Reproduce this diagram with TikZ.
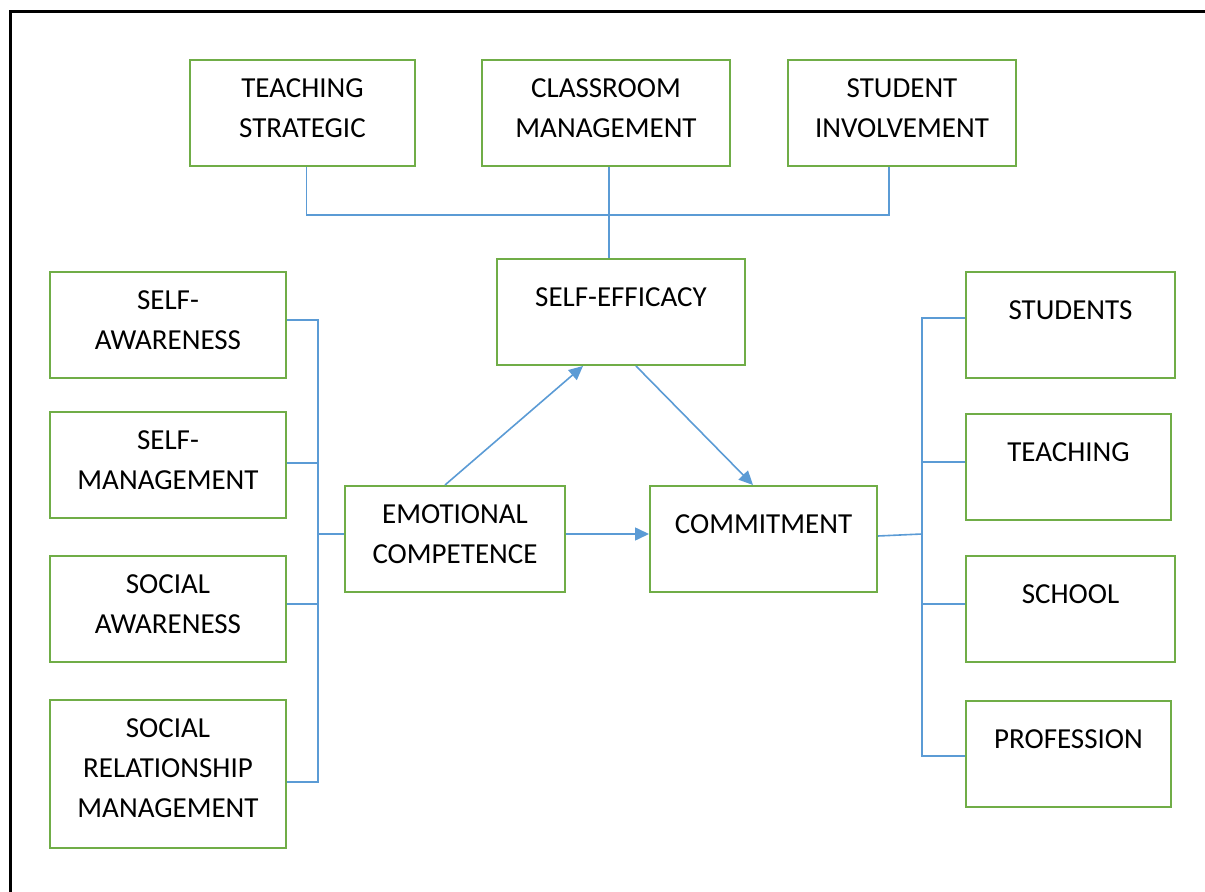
\documentclass[tikz,border=0pt]{standalone}
\usepackage{fontspec}
\setmainfont{Carlito}
\usetikzlibrary{arrows.meta}
\definecolor{boxgreen}{RGB}{112,173,71}
\definecolor{linkblue}{RGB}{91,155,213}
\tikzset{
  box/.style={draw=boxgreen,line width=1pt,align=center,inner sep=0pt,
    font=\fontsize{14.5pt}{20pt}\selectfont},
  oneline/.style={box,text height=9.4pt,text depth=14.9pt},
  twoline/.style={box,text height=29.4pt,text depth=4.5pt},
  threeline/.style={box,text height=49.4pt,text depth=5.55pt},
  link/.style={draw=linkblue,line width=0.8pt},
  flow/.style={link,-{Stealth[length=7pt,width=6.5pt,inset=0pt]}}
}

\begin{document}
\begin{tikzpicture}[x=0.5pt,y=-0.5pt]
  \useasboundingbox (0,0) rectangle (1205,892);
  \draw[line width=1.5pt] (10,892) -- (10,12) -- (1205,12);

  % top row
  \node[twoline,minimum width=112.5pt,minimum height=53pt] (ts) at (302.5,113) {TEACHING\\STRATEGIC};
  \node[twoline,minimum width=124pt,minimum height=53pt] (cm) at (606,113) {CLASSROOM\\MANAGEMENT};
  \node[twoline,minimum width=114pt,minimum height=53pt] (si) at (902,113) {STUDENT\\INVOLVEMENT};
  \node[oneline,minimum width=124pt,minimum height=53pt] (se) at (621,312) {SELF-EFFICACY};

  % left column
  \node[twoline,minimum width=118pt,minimum height=53pt] (sa) at (168,325) {SELF-\\AWARENESS};
  \node[twoline,minimum width=118pt,minimum height=53pt] (sm) at (168,465) {SELF-\\MANAGEMENT};
  \node[twoline,minimum width=118pt,minimum height=53pt] (soa) at (168,609) {SOCIAL\\AWARENESS};
  \node[threeline,minimum width=118pt,minimum height=74pt] (srm) at (168,774) {SOCIAL\\RELATIONSHIP\\MANAGEMENT};

  % middle
  \node[twoline,minimum width=110pt,minimum height=53pt] (ec) at (455,539) {EMOTIONAL\\COMPETENCE};
  \node[oneline,minimum width=113.5pt,minimum height=53pt] (co) at (763.5,539) {COMMITMENT};

  % right column
  \node[oneline,minimum width=104.5pt,minimum height=53pt] (st) at (1070.5,325) {STUDENTS};
  \node[oneline,minimum width=102.5pt,minimum height=53pt] (te) at (1068.5,467) {TEACHING};
  \node[oneline,minimum width=104.5pt,minimum height=53pt] (sc) at (1070.5,609) {SCHOOL};
  \node[oneline,minimum width=102.5pt,minimum height=53pt] (pr) at (1068.5,754) {PROFESSION};

  \coordinate (topbus) at (609,215);
  \coordinate (lbus) at (318,534);
  \coordinate (rbus) at (922,534);

  % brackets
  \draw[link] ([xshift=2pt]ts.south) |- (topbus) -| ([xshift=-6.5pt]si.south);
  \draw[link] (cm.south -| topbus) -- (topbus |- se.north);
  \draw[link] ([yshift=2.5pt]sa.east) -| (lbus) |- ([yshift=-4pt]srm.east);
  \draw[link] ([yshift=1pt]sm.east) -- ([yshift=1pt]sm.east -| lbus);
  \draw[link] ([yshift=2.5pt]soa.east) -- ([yshift=2.5pt]soa.east -| lbus);
  \draw[link] (lbus) -- (lbus -| ec.west);
  \draw[link] ([yshift=3.5pt]st.west) -| (rbus) |- ([yshift=-1pt]pr.west);
  \draw[link] ([yshift=2.5pt]te.west) -- ([yshift=2.5pt]te.west -| rbus);
  \draw[link] ([yshift=2.5pt]sc.west) -- ([yshift=2.5pt]sc.west -| rbus);
  \draw[link] ([yshift=1.5pt]co.east) -- (rbus);

  % arrows
  \draw[flow] ([xshift=-5pt]ec.north) -- ([xshift=-19pt]se.south);
  \draw[flow] ([xshift=7.5pt]se.south) -- ([xshift=-5.25pt]co.north);
  \draw[flow] ([yshift=2.5pt]ec.east) -- ([yshift=2.5pt]co.west);
\end{tikzpicture}
\end{document}
